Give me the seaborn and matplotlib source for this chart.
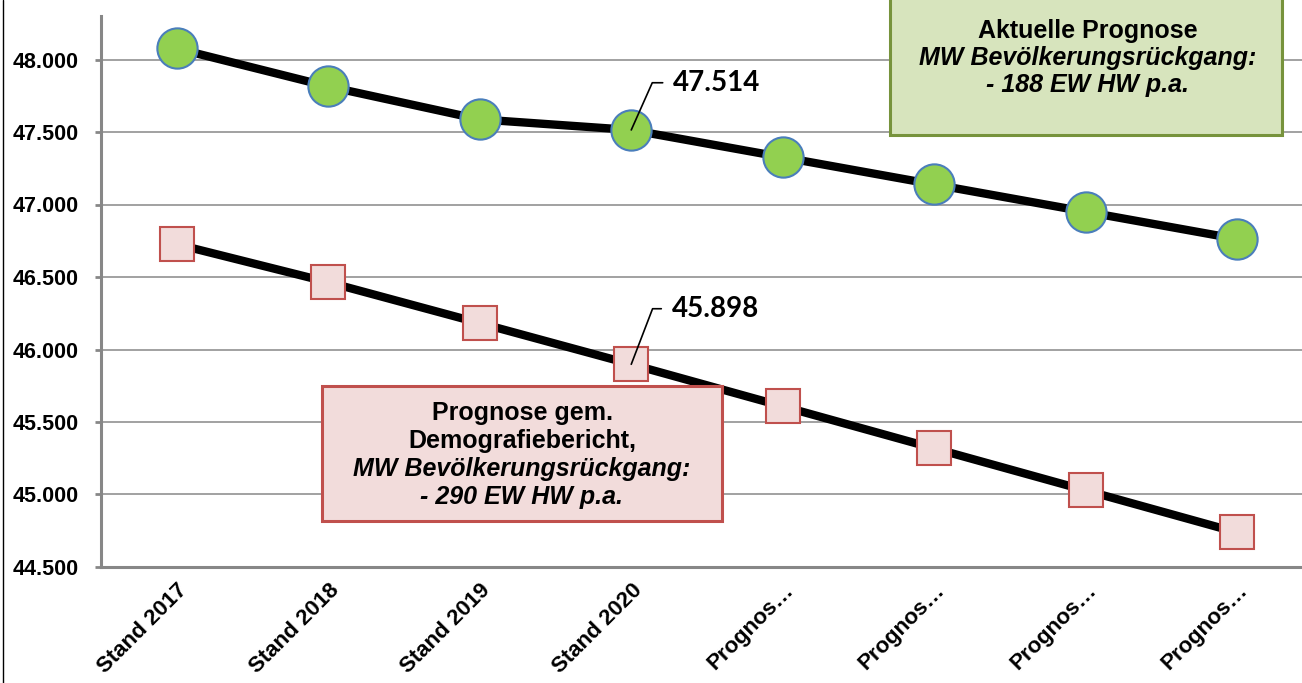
import numpy as np
import matplotlib
matplotlib.use("Agg")
import matplotlib.pyplot as plt
from matplotlib.patches import Rectangle
from matplotlib.lines import Line2D
import seaborn as sns

# Data
categories = ["Stand 2017", "Stand 2018", "Stand 2019", "Stand 2020",
              "Prognos…", "Prognos…", "Prognos…", "Prognos…"]
aktuell = [48076, 47814, 47587, 47514, 47326, 47138, 46950, 46762]
demografie = [46726, 46464, 46182, 45898, 45608, 45318, 45028, 44738]
label_idx = 3
y_ticks = [44500, 45000, 45500, 46000, 46500, 47000, 47500, 48000]

box_green = ["Aktuelle Prognose", "MW Bevölkerungsrückgang:", "- 188 EW HW p.a."]
box_red = ["Prognose gem.", "Demografiebericht,", "MW Bevölkerungsrückgang:", "- 290 EW HW p.a."]

GRID = "#878787"


def de_fmt(v):
    return f"{v:,.0f}".replace(",", ".")


sns.set_theme(style="white")
plt.rcParams["font.family"] = ["Liberation Sans", "DejaVu Sans"]
plt.rcParams["font.weight"] = "bold"
plt.rcParams["text.color"] = "black"
plt.rcParams["xtick.color"] = "black"
plt.rcParams["ytick.color"] = "black"

W, H = 1302, 683
fig = plt.figure(figsize=(W / 100, H / 100), dpi=100)
ax = fig.add_axes([101 / W, 1 - 567 / H, 1212 / W, 551 / H])

x = np.arange(len(categories))

sns.lineplot(x=x, y=aktuell, ax=ax, color="black", linewidth=6, zorder=3,
             marker="o", markersize=29, markerfacecolor="#92D050",
             markeredgecolor="#4A7EBB", markeredgewidth=1.5, sort=False)
sns.lineplot(x=x, y=demografie, ax=ax, color="black", linewidth=6, zorder=3,
             marker="s", markersize=24, markerfacecolor="#F2DCDB",
             markeredgecolor="#C0504D", markeredgewidth=1.5, sort=False)

ax.set_xlim(-0.5, len(categories) - 0.5)
ax.set_ylim(44500, 48300)
ax.set_yticks(y_ticks)
ax.set_yticklabels([de_fmt(v) for v in y_ticks], fontsize=15.5, fontweight="bold")
ax.grid(axis="y", color=GRID, linewidth=1.1)
ax.set_axisbelow(True)

for s in ["top", "right"]:
    ax.spines[s].set_visible(False)
for s in ["left", "bottom"]:
    ax.spines[s].set_color(GRID)
    ax.spines[s].set_linewidth(2.2)

ax.set_xticks(x)
ax.set_xticks(np.arange(len(categories) + 1) - 0.5, minor=True)
ax.set_xticklabels(categories, rotation=45, ha="right", rotation_mode="anchor",
                   fontsize=16, fontweight="bold")
ax.tick_params(axis="x", which="major", length=0, pad=9)
ax.tick_params(axis="x", which="minor", length=5, width=1.5, color=GRID, direction="out")
ax.tick_params(axis="y", length=4, width=2, color=GRID, pad=12, left=True,
               labelcolor="black")

# value labels with leader lines
for vals, off, ang in [(aktuell, (30, 34), 66), (demografie, (29, 40), 69)]:
    ax.annotate(de_fmt(vals[label_idx]),
                xy=(label_idx, vals[label_idx]), xytext=off, textcoords="offset points",
                fontsize=20, fontweight="bold", family=["Lato", "DejaVu Sans"],
                ha="left", va="center", zorder=5,
                arrowprops=dict(arrowstyle="-", color="black", lw=1.2,
                                shrinkA=5, shrinkB=0,
                                connectionstyle=f"angle,angleA=0,angleB={ang},rad=0"))

# text boxes
fig.add_artist(Rectangle((890 / W, 1 - 135 / H), 392 / W, 140 / H, transform=fig.transFigure,
                         facecolor="#D7E4BD", edgecolor="#77933C", linewidth=2.2, zorder=6))
gy = [31, 58, 85]
for i, (line, yy) in enumerate(zip(box_green, gy)):
    fig.text(1088 / W, 1 - yy / H, line, ha="center", va="center", fontsize=18,
             fontweight="bold", style="normal" if i == 0 else "italic", zorder=7)

fig.add_artist(Rectangle((322 / W, 1 - 521 / H), 400 / W, 135 / H, transform=fig.transFigure,
                         facecolor="#F2DCDB", edgecolor="#C0504D", linewidth=2.2, zorder=6))
ry = [413, 441, 469, 497]
for i, (line, yy) in enumerate(zip(box_red, ry)):
    fig.text(522 / W, 1 - yy / H, line, ha="center", va="center", fontsize=18,
             fontweight="bold", style="normal" if i < 2 else "italic", zorder=7)

# chart area border (left edge)
fig.add_artist(Line2D([3 / W, 3 / W], [0, 1], transform=fig.transFigure, color="black", lw=1))

fig.savefig("out.png", dpi=100)
